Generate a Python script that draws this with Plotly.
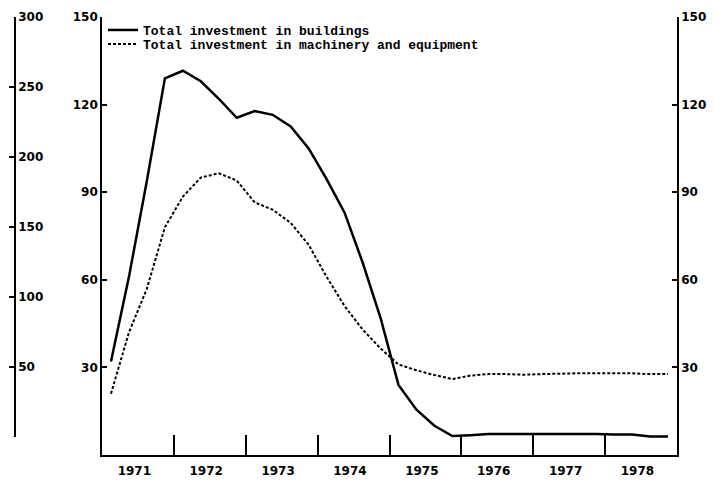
import plotly.graph_objects as go

# quarterly observations, 1971 Q1 .. 1978 Q4 (plotted at mid-quarter)
years = [1971, 1972, 1973, 1974, 1975, 1976, 1977, 1978]
quarter_pos = [y + (q + 0.5) / 4 for y in years for q in range(4)]

buildings = [
    32, 61, 94, 129,
    131.6, 128, 122, 115.5,
    117.8, 116.5, 112.5, 105,
    94.5, 83, 66, 47,
    24, 15.5, 10, 6.5,
    6.8, 7.2, 7.2, 7.2,
    7.4, 7.4, 7.4, 7.2,
    7.0, 7.0, 6.3, 6.3,
]
machinery = [
    21, 42, 57, 78,
    88.5, 95, 96.5, 94,
    86.5, 84, 79.5, 72,
    61, 51, 43, 36.5,
    31, 29, 27.4, 26,
    27.2, 27.7, 27.7, 27.5,
    27.7, 27.9, 28, 28,
    28, 28, 27.7, 27.7,
]

main_ticks = [30, 60, 90, 120, 150]
outer_ticks = [50, 100, 150, 200, 250, 300]

# page body adds an 8px offset, so the figure is laid out in shifted pixels
OFF = 8
W, H = 719 - OFF, 481 - OFF


def px(x):
    return (x - OFF) / W


def py(y):
    return 1 - (y - OFF) / H


tick_font = dict(family="DejaVu Sans", size=12, color="black", weight="bold")
axis_line = dict(showline=True, linecolor="black", linewidth=1.6, showgrid=False, zeroline=False)
tick_style = dict(ticks="inside", ticklen=5, tickwidth=1.6, tickcolor="black",
                  tickfont=tick_font, automargin=False, tickmode="array")

fig = go.Figure()
fig.add_trace(go.Scatter(
    x=quarter_pos, y=buildings, mode="lines",
    name="Total investment in buildings",
    line=dict(color="black", width=2.5), legend="legend",
))
fig.add_trace(go.Scatter(
    x=quarter_pos, y=machinery, mode="lines",
    name="Total investment in machinery and equipment",
    line=dict(color="black", width=2, dash="3px,2px"), legend="legend2",
))
# empty traces so the right-hand and far-left scales get drawn
fig.add_trace(go.Scatter(x=[], y=[], yaxis="y2", showlegend=False, hoverinfo="skip"))
fig.add_trace(go.Scatter(x=[], y=[], xaxis="x2", yaxis="y3", showlegend=False, hoverinfo="skip"))

legend_style = dict(
    xanchor="left", yanchor="middle",
    font=dict(family="Liberation Mono", size=13, color="black", weight="bold"),
    bgcolor="rgba(0,0,0,0)", itemwidth=30,
)

fig.update_layout(
    width=W, height=H,
    margin=dict(l=0, r=0, t=0, b=0),
    paper_bgcolor="white", plot_bgcolor="white",
    showlegend=True,
    legend=dict(x=px(103), y=py(30), **legend_style),
    legend2=dict(x=px(103), y=py(44), **legend_style),
    xaxis=dict(
        domain=[px(102), px(677)], range=[1971, 1979], **axis_line,
        tickmode="array", tickvals=[y + 0.45 for y in years], ticktext=[str(y) for y in years],
        ticks="", tickfont=tick_font, automargin=False, ticklabelstandoff=4,
        minor=dict(tickmode="array", tickvals=years[1:], ticks="inside", ticklen=20,
                   tickwidth=1.6, tickcolor="black"),
    ),
    yaxis=dict(domain=[py(455), py(17)], range=[0, 150], tickvals=main_ticks,
               **axis_line, **tick_style),
    yaxis2=dict(overlaying="y", side="right", anchor="x", range=[0, 150], tickvals=main_ticks,
                **axis_line, **tick_style),
    xaxis2=dict(domain=[0, px(14)], anchor="y3", visible=False, range=[0, 1]),
    yaxis3=dict(domain=[py(437), py(17)], anchor="x2", side="right", range=[0, 300],
                tickvals=outer_ticks, **axis_line, **tick_style),
)

fig.write_html("out.html")
